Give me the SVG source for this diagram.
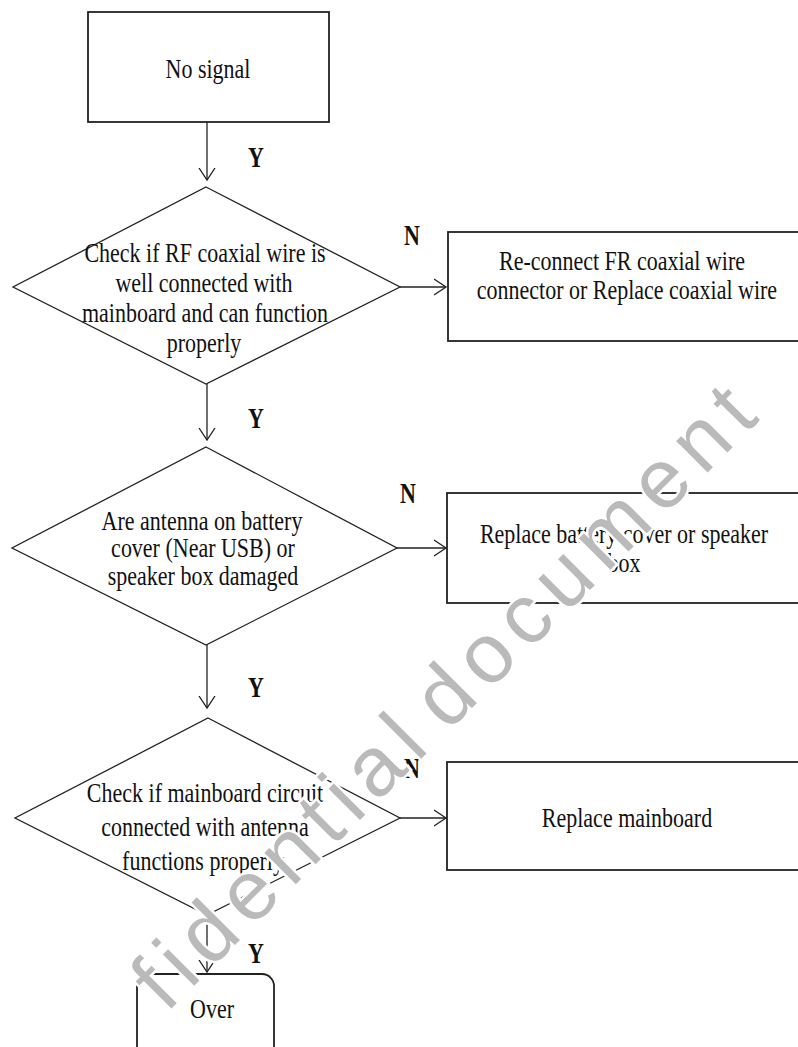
<svg xmlns="http://www.w3.org/2000/svg" width="798" height="1047" viewBox="0 0 798 1047">
<style>
.box{fill:#fff;stroke:#222;stroke-width:1.8}
.dia{fill:none;stroke:#222;stroke-width:1.3}
.t{font-family:"Liberation Serif","Times New Roman",serif;font-size:22px;fill:#111;text-anchor:middle}
.lb{font-family:"Liberation Serif","Times New Roman",serif;font-size:22px;font-weight:bold;fill:#111;text-anchor:middle}
.con{fill:none;stroke:#222;stroke-width:1.3;marker-end:url(#arr)}
.wm{font-family:"Liberation Sans",Arial,sans-serif;font-size:84px;fill:#bababa;stroke:#fff;stroke-width:5;paint-order:stroke;letter-spacing:10.5px}
</style>
<defs>
<marker id="arr" markerWidth="14" markerHeight="18" refX="12" refY="9" orient="auto" markerUnits="userSpaceOnUse">
<polyline points="0,1 12,9 0,17" fill="none" stroke="#222" stroke-width="1.3"/>
</marker>
</defs>
<rect width="798" height="1047" fill="#fff"/>
<g id="n1"><rect class="box" x="88" y="12" width="241" height="110"/><text class="t" x="208" y="78" transform="matrix(1 0 0 1.2 0 -15.6)">No signal</text></g>
<g id="d1"><polygon class="dia" points="206,187 400,287 206,384 13,287"/>
<text class="t" x="205" y="262" transform="matrix(1 0 0 1.2 0 -52.4)">Check if RF coaxial wire is</text>
<text class="t" x="204" y="292" transform="matrix(1 0 0 1.2 0 -58.4)">well connected with</text>
<text class="t" x="205" y="322" transform="matrix(1 0 0 1.2 0 -64.4)">mainboard and can function</text>
<text class="t" x="204" y="352" transform="matrix(1 0 0 1.2 0 -70.4)">properly</text></g>
<g id="b2"><rect class="box" x="448" y="232" width="360" height="109"/>
<text class="t" x="622" y="270" transform="matrix(1 0 0 1.2 0 -54)">Re-connect FR coaxial wire</text>
<text class="t" x="627" y="299" transform="matrix(1 0 0 1.2 0 -59.8)">connector or Replace coaxial wire</text></g>
<g id="d2"><polygon class="dia" points="206,447 397,548 206,645 12,548"/>
<text class="t" x="202" y="530" transform="matrix(1 0 0 1.2 0 -106)">Are antenna  on battery</text>
<text class="t" x="203" y="557" transform="matrix(1 0 0 1.2 0 -111.4)">cover (Near USB) or</text>
<text class="t" x="203" y="585" transform="matrix(1 0 0 1.2 0 -117)">speaker box damaged</text></g>
<g id="b3"><rect class="box" x="447" y="493" width="360" height="110"/>
<text class="t" x="624" y="543" transform="matrix(1 0 0 1.2 0 -108.6)">Replace battery cover or speaker</text>
<text class="t" x="624" y="572" transform="matrix(1 0 0 1.2 0 -114.4)">box</text></g>
<g id="d3"><polygon class="dia" points="208,718 400,818 207,915 15,818"/>
<text class="t" x="205" y="802" transform="matrix(1 0 0 1.2 0 -160.4)">Check if mainboard  circuit</text>
<text class="t" x="205" y="836" transform="matrix(1 0 0 1.2 0 -167.2)">connected  with  antenna</text>
<text class="t" x="203" y="870" transform="matrix(1 0 0 1.2 0 -174)">functions  properly</text></g>
<g id="b4"><rect class="box" x="447" y="762" width="360" height="108"/>
<text class="t" x="627" y="827" transform="matrix(1 0 0 1.2 0 -165.4)">Replace  mainboard</text></g>
<g id="over"><rect class="box" x="137" y="974" width="137" height="110" rx="12"/>
<text class="t" x="212" y="1018" transform="matrix(1 0 0 1.2 0 -203.6)">Over</text></g>
<g id="connectors">
<line class="con" x1="207" y1="122" x2="207" y2="180"/>
<line class="con" x1="400" y1="287" x2="446" y2="287"/>
<line class="con" x1="207" y1="384" x2="207" y2="440"/>
<line class="con" x1="397" y1="548" x2="446" y2="548"/>
<line class="con" x1="207" y1="645" x2="207" y2="708"/>
<line class="con" x1="400" y1="818" x2="446" y2="818"/>
<line class="con" x1="207" y1="915" x2="207" y2="972"/>
<text class="lb" x="256" y="167" transform="matrix(1 0 0 1.3 0 -50.1)">Y</text>
<text class="lb" x="412" y="245" transform="matrix(1 0 0 1.3 0 -73.5)">N</text>
<text class="lb" x="256" y="428" transform="matrix(1 0 0 1.3 0 -128.4)">Y</text>
<text class="lb" x="408" y="503" transform="matrix(1 0 0 1.3 0 -150.9)">N</text>
<text class="lb" x="256" y="697" transform="matrix(1 0 0 1.3 0 -209.1)">Y</text>
<text class="lb" x="412" y="778" transform="matrix(1 0 0 1.3 0 -233.4)">N</text>
<text class="lb" x="256" y="963" transform="matrix(1 0 0 1.3 0 -288.9)">Y</text>
</g>
<g id="watermark"><text class="wm" transform="translate(35,1145) rotate(-45)"><tspan fill="none" stroke="none">Con</tspan>fidential<tspan dx="14">document</tspan></text></g>
</svg>
